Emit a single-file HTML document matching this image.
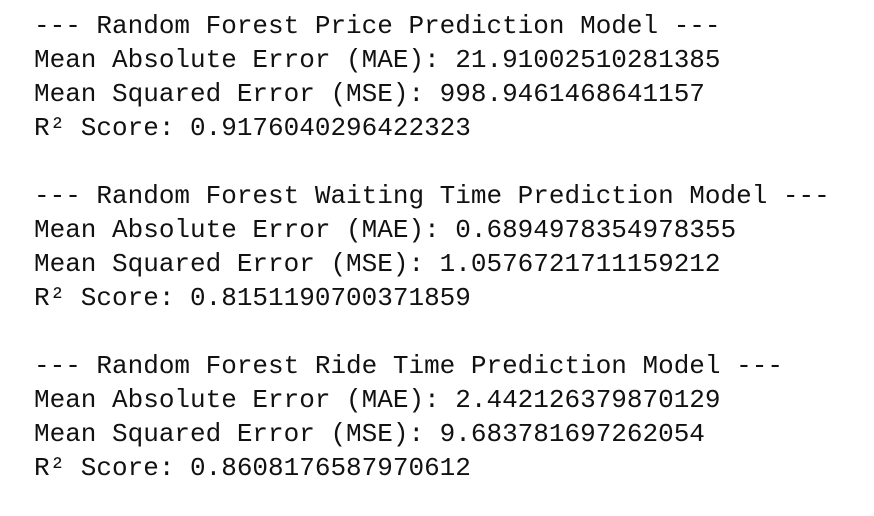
<!DOCTYPE html>
<html>
<head>
<meta charset="utf-8">
<style>
  html, body { margin: 0; padding: 0; background: #ffffff; }
  body { width: 874px; height: 516px; overflow: hidden; }
  pre {
    margin: 0;
    position: absolute;
    left: 34px;
    top: 9px;
    font-family: "Liberation Mono", "DejaVu Sans Mono", monospace;
    font-size: 26px;
    line-height: 34px;
    color: #111111;
  }
</style>
</head>
<body>
<pre>--- Random Forest Price Prediction Model ---
Mean Absolute Error (MAE): 21.91002510281385
Mean Squared Error (MSE): 998.9461468641157
R² Score: 0.9176040296422323

--- Random Forest Waiting Time Prediction Model ---
Mean Absolute Error (MAE): 0.6894978354978355
Mean Squared Error (MSE): 1.0576721711159212
R² Score: 0.8151190700371859

--- Random Forest Ride Time Prediction Model ---
Mean Absolute Error (MAE): 2.442126379870129
Mean Squared Error (MSE): 9.683781697262054
R² Score: 0.8608176587970612</pre>
</body>
</html>
